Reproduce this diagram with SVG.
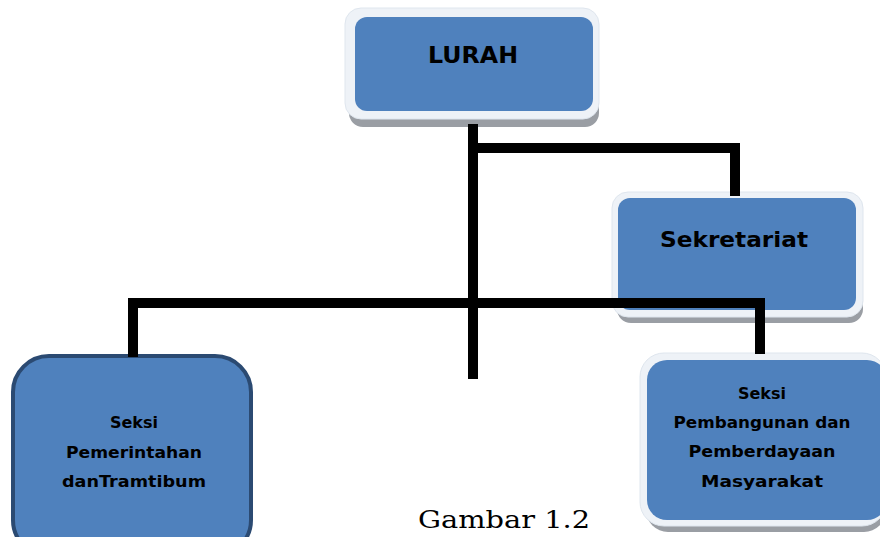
<svg xmlns="http://www.w3.org/2000/svg" width="880" height="537" viewBox="0 0 880 537">
<defs>
<style>
.frame{fill:#eef2f7;stroke:#dfe6ee;stroke-width:1}
.shadow{fill:#9a9ea4}
.blue{fill:#4f81bd}
.lbl{font-family:"DejaVu Sans","Liberation Sans",sans-serif;font-weight:bold;fill:#000;text-anchor:middle}
.con{stroke:#000;stroke-width:10;fill:none;stroke-linecap:butt}
</style>
</defs>
<rect width="880" height="537" fill="#fff"/>
<g id="lurah">
<rect class="shadow" x="349" y="16" width="250" height="111" rx="14"/>
<rect class="frame" x="345" y="8" width="254" height="111" rx="16"/>
<rect class="blue" x="355" y="17" width="238" height="94" rx="12"/>
<text class="lbl" x="473" y="63" font-size="23" textLength="90" lengthAdjust="spacingAndGlyphs">LURAH</text>
</g>
<g id="sekretariat">
<rect class="shadow" x="617" y="200" width="246" height="123" rx="14"/>
<rect class="frame" x="612" y="192" width="251" height="125" rx="16"/>
<rect class="blue" x="618" y="198" width="238" height="112" rx="12"/>
<text class="lbl" x="734" y="247" font-size="21" textLength="148" lengthAdjust="spacingAndGlyphs">Sekretariat</text>
</g>
<g id="seksi-pemerintahan">
<rect x="13" y="356" width="238" height="200" rx="36" fill="#4f81bd" stroke="#2b4a72" stroke-width="4"/>
<text class="lbl" font-size="16" x="134"><tspan x="134" y="428">Seksi</tspan><tspan x="134" y="458" textLength="136" lengthAdjust="spacingAndGlyphs">Pemerintahan</tspan><tspan x="134" y="487" textLength="144" lengthAdjust="spacingAndGlyphs">danTramtibum</tspan></text>
</g>
<g id="seksi-pembangunan">
<rect class="shadow" x="646" y="362" width="240" height="170" rx="22"/>
<rect class="frame" x="640" y="353" width="246" height="173" rx="24"/>
<rect class="blue" x="647" y="360" width="240" height="160" rx="20"/>
<text class="lbl" font-size="16" x="762"><tspan x="762" y="399">Seksi</tspan><tspan x="762" y="428" textLength="177" lengthAdjust="spacingAndGlyphs">Pembangunan dan</tspan><tspan x="762" y="457" textLength="147" lengthAdjust="spacingAndGlyphs">Pemberdayaan</tspan><tspan x="762" y="487" textLength="122" lengthAdjust="spacingAndGlyphs">Masyarakat</tspan></text>
</g>
<g id="connectors">
<line class="con" x1="473" y1="124" x2="473" y2="379"/>
<polyline class="con" points="473,148 735,148 735,196"/>
<polyline class="con" points="133,357 133,303 760,303 760,354"/>
</g>
<text x="504" y="528" font-family="'DejaVu Serif','Liberation Serif',serif" font-size="25" fill="#000" text-anchor="middle" textLength="172" lengthAdjust="spacingAndGlyphs">Gambar 1.2</text>
</svg>
